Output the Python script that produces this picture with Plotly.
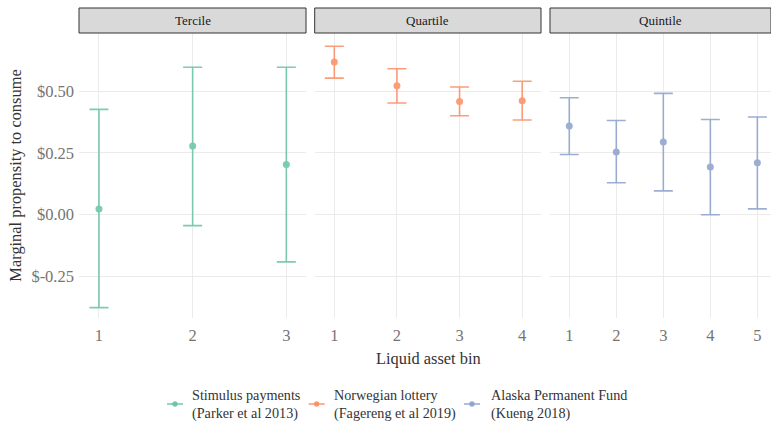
import plotly.graph_objects as go

# ---- data ----
facets = ["Tercile", "Quartile", "Quintile"]
series_names = ["Stimulus payments<br>(Parker et al 2013)",
                "Norwegian lottery<br>(Fagereng et al 2019)",
                "Alaska Permanent Fund<br>(Kueng 2018)"]
colors = ["#66C2A5", "#FC8D62", "#8DA0CB"]

tercile_bins = [1, 2, 3]
tercile_mpc = [0.023, 0.278, 0.203]
tercile_lo = [-0.378, -0.045, -0.192]
tercile_hi = [0.427, 0.598, 0.598]

quartile_bins = [1, 2, 3, 4]
quartile_mpc = [0.619, 0.523, 0.459, 0.462]
quartile_lo = [0.554, 0.453, 0.401, 0.384]
quartile_hi = [0.683, 0.592, 0.518, 0.541]

quintile_bins = [1, 2, 3, 4, 5]
quintile_mpc = [0.359, 0.254, 0.294, 0.193, 0.210]
quintile_lo = [0.244, 0.129, 0.096, -0.001, 0.023]
quintile_hi = [0.474, 0.382, 0.492, 0.386, 0.396]

y_ticks = [-0.25, 0.0, 0.25, 0.50]
y_ticklabels = ["$-0.25", "$0.00", "$0.25", "$0.50"]

panels = [
    (tercile_bins, tercile_mpc, tercile_lo, tercile_hi),
    (quartile_bins, quartile_mpc, quartile_lo, quartile_hi),
    (quintile_bins, quintile_mpc, quintile_lo, quintile_hi),
]

W, H = 771, 421
ML, MR, MT, MB = 79, 0, 33, 103
PW = W - ML - MR
PH = H - MT - MB
domains = [(0.0, 227 / PW), (235.7 / PW, 462 / PW), (471 / PW, 1.0)]
x_ranges = [[0.787, 3.21], [0.687, 4.30], [0.59, 5.29]]

FONT = "Liberation Serif"


def px_x(p):
    return (p - ML) / PW


def px_y(p):
    return (H - MB - p) / PH


fig = go.Figure()
for i, (bins, mpc, lo, hi) in enumerate(panels):
    xa = "x" if i == 0 else f"x{i+1}"
    fig.add_trace(go.Scatter(
        x=bins, y=mpc, mode="markers", xaxis=xa, yaxis="y",
        marker=dict(color=colors[i], size=7),
        error_y=dict(type="data", symmetric=False,
                     array=[h - m for h, m in zip(hi, mpc)],
                     arrayminus=[m - l for m, l in zip(mpc, lo)],
                     color=colors[i], thickness=1.6, width=9.5),
        name=series_names[i].replace("<br>", " "),
        showlegend=False, opacity=0.85,
    ))

layout = dict(
    width=W, height=H,
    margin=dict(l=ML, r=MR, t=MT, b=MB, pad=0),
    paper_bgcolor="white", plot_bgcolor="white",
    font=dict(family=FONT, color="#333333", size=15),
    yaxis=dict(range=[-0.42, 0.737], tickvals=y_ticks, ticktext=y_ticklabels,
               showgrid=True, gridcolor="#EBEBEB", gridwidth=1, zeroline=False,
               showline=False, ticks="", ticklabelstandoff=4,
               tickfont=dict(size=16.5, color="#747474", family=FONT),
               title=dict(text="Marginal propensity to consume",
                          font=dict(size=16.4, color="#333333", family=FONT), standoff=5),
               anchor="x"),
    showlegend=False,
)
for i, bins in enumerate([tercile_bins, quartile_bins, quintile_bins]):
    key = "xaxis" if i == 0 else f"xaxis{i+1}"
    layout[key] = dict(domain=list(domains[i]), range=x_ranges[i], anchor="y",
                       tickvals=bins, ticktext=[str(b) for b in bins],
                       showgrid=True, gridcolor="#EBEBEB", gridwidth=1,
                       zeroline=False, showline=False, ticks="",
                       ticklabelstandoff=5,
                       tickfont=dict(size=16.5, color="#747474", family=FONT))
fig.update_layout(**layout)

shapes = []
annotations = []
strip_top = 1 + 25 / PH
for i, name in enumerate(facets):
    d0, d1 = domains[i]
    shapes.append(dict(type="rect", xref="paper", yref="paper",
                       x0=d0, x1=d1, y0=1.0, y1=strip_top,
                       fillcolor="#D9D9D9", line=dict(color="#333333", width=1)))
    annotations.append(dict(text=name, xref="paper", yref="paper",
                            x=(d0 + d1) / 2, y=(1 + strip_top) / 2,
                            showarrow=False, xanchor="center", yanchor="middle",
                            font=dict(size=13, color="#1a1a1a", family=FONT)))
annotations.append(dict(text="Liquid asset bin", xref="paper", yref="paper",
                        x=px_x(428), y=px_y(358),
                        showarrow=False, xanchor="center", yanchor="middle",
                        font=dict(size=16.4, color="#333333", family=FONT)))

# legend (drawn as key glyphs + text)
leg_sym_x = [175, 316.7, 472]
leg_txt_x = [190, 332, 489]
leg_y = 404
for i in range(3):
    cx = leg_sym_x[i]
    shapes.append(dict(type="line", xref="paper", yref="paper",
                       x0=px_x(cx - 8), x1=px_x(cx + 8), y0=px_y(leg_y), y1=px_y(leg_y),
                       line=dict(color=colors[i], width=1.6), opacity=0.85))
    shapes.append(dict(type="circle", xref="paper", yref="paper",
                       x0=px_x(cx - 2.7), x1=px_x(cx + 2.7),
                       y0=px_y(leg_y + 2.7), y1=px_y(leg_y - 2.7),
                       fillcolor=colors[i], line=dict(width=0), opacity=0.9))
    annotations.append(dict(text=series_names[i], xref="paper", yref="paper",
                            x=px_x(leg_txt_x[i]), y=px_y(leg_y),
                            showarrow=False, xanchor="left", yanchor="middle",
                            align="left",
                            font=dict(size=14.2, color="#333333", family=FONT)))
fig.update_layout(shapes=shapes, annotations=annotations)

fig.write_html("out.html")
